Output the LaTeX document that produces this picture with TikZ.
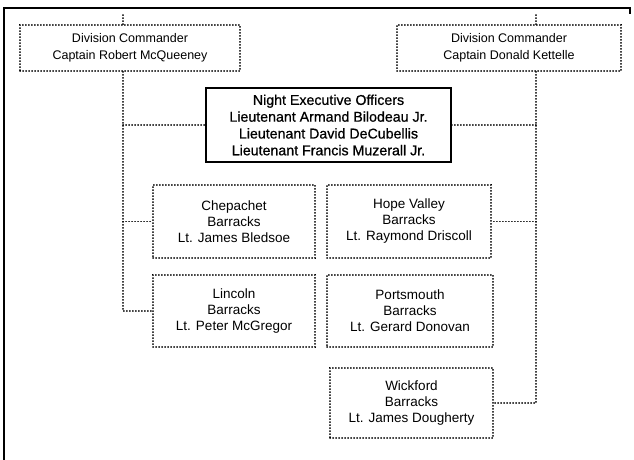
\documentclass[tikz,border=0pt]{standalone}
\usepackage{fontspec}
\setmainfont{Liberation Sans}
\newfontfamily\execfont[FakeBold=0.7]{Liberation Sans}
\begin{document}
\begin{tikzpicture}[x=1pt,y=-1pt,
  dots/.style={line width=1.8pt,dash pattern=on 0.1pt off 2.9pt,line cap=round},
  unitbox/.style={dots,draw,inner sep=0pt,align=center,font=\fontsize{13.5}{16}\selectfont},
  dcbox/.style={unitbox,font=\fontsize{12.5}{16.5}\selectfont},
  execbox/.style={draw,line width=1.3pt,inner sep=0pt,align=center,font=\execfont\fontsize{14.2}{16.8}\selectfont},
  link/.style={dots}]
\useasboundingbox (0,0) rectangle (634,460);
% outer frame
\draw[line width=1.5pt] (4,460) -- (4,8) -- (630,8) -- (630,14);
% division commanders
\node[dcbox,minimum width=220pt,minimum height=46pt] (ldc) at (130,48)
  {Division Commander\\Captain Robert McQueeney};
\node[dcbox,minimum width=224pt,minimum height=46pt] (rdc) at (509,48)
  {Division Commander\\Captain Donald Kettelle};
% night executive officers
\node[execbox,minimum width=245pt,minimum height=74pt] (exec) at (328.5,125)
  {Night Executive Officers\\Lieutenant Armand Bilodeau Jr.\\Lieutenant David DeCubellis\\Lieutenant Francis Muzerall Jr.};
% barracks
\node[unitbox,minimum width=162pt,minimum height=73pt] (chep) at (234,221.5)
  {Chepachet\\Barracks\\Lt. James Bledsoe};
\node[unitbox,minimum width=164pt,minimum height=73pt] (hope) at (409,221.5)
  {Hope Valley\\Barracks\\Lt. Raymond Driscoll};
\node[unitbox,minimum width=162pt,minimum height=72pt] (linc) at (234,311)
  {Lincoln\\Barracks\\Lt. Peter McGregor};
\node[unitbox,minimum width=166pt,minimum height=72pt] (port) at (410,311)
  {Portsmouth\\Barracks\\Lt. Gerard Donovan};
\node[unitbox,minimum width=163pt,minimum height=70pt] (wick) at (411.5,403)
  {Wickford\\Barracks\\Lt. James Dougherty};
% connector stubs above the commanders
\coordinate (ltop) at (123,15);
\coordinate (rtop) at (536,15);
\draw[link] (ltop) -- (ltop |- ldc.north);
\draw[link] (rtop) -- (rtop |- rdc.north);
% left chain of command
\draw[link] (ldc.south -| ltop) |- (linc.west);
\draw[link] (exec.west -| ltop) -- (exec.west);
\draw[link] (chep.west -| ltop) -- (chep.west);
% right chain of command
\draw[link] (rdc.south -| rtop) |- (wick.east);
\draw[link] (exec.east -| rtop) -- (exec.east);
\draw[link] (hope.east -| rtop) -- (hope.east);
\end{tikzpicture}
\end{document}
